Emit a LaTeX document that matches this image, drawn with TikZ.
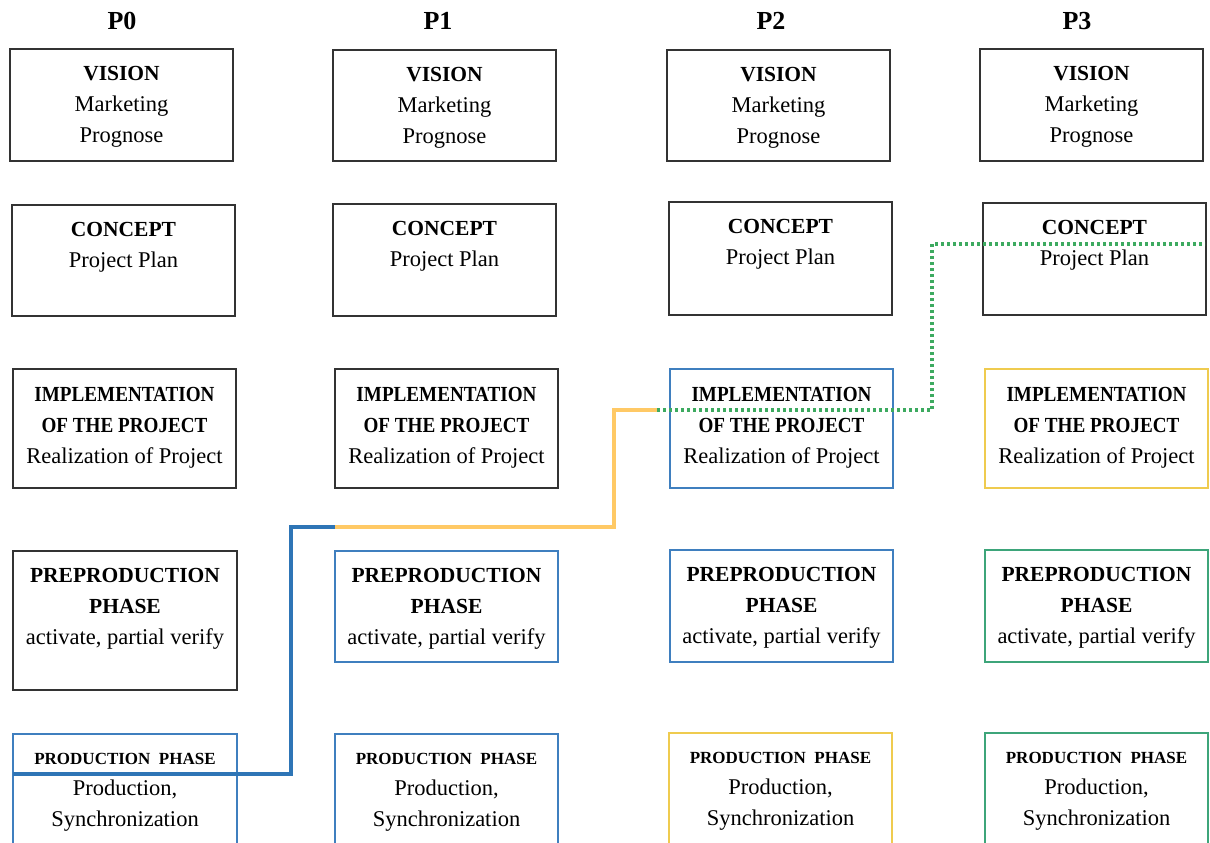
\documentclass[tikz,border=0pt]{standalone}
\usepackage{fontspec}
\usepackage{graphicx}
\setmainfont{Liberation Serif}
\definecolor{bk}{HTML}{333333}
\definecolor{bl}{HTML}{3F7FBF}
\definecolor{yl}{HTML}{EFCB4F}
\definecolor{gr}{HTML}{3DA57A}
\definecolor{lineblue}{HTML}{2E75B6}
\definecolor{lineyel}{HTML}{FFC965}
\definecolor{linegr}{HTML}{3DAA60}
\newcommand{\bt}[1]{{\fontsize{21.5}{31}\selectfont\bfseries #1}}
\newcommand{\bn}[1]{\scalebox{0.89}[1]{\bt{#1}}}
\tikzset{
  boxst/.style={rectangle,inner sep=0pt,line width=1.2pt},
  txt/.style={inner sep=0pt,align=center,font=\fontsize{22.5}{31}\selectfont,anchor=north},
  hdr/.style={font=\fontsize{26}{30}\selectfont\bfseries},
  conn/.style={line width=3.6pt,line join=miter},
}
\newcommand{\pbox}[8]{%
  \node[boxst,draw=#6,minimum width={(#4-#2)*1pt},minimum height={(#5-#3)*1pt}]
    (#1) at ({(#2+#4)/2},{(#3+#5)/2}) {};
  \node[txt] (#1t) at ([yshift=-#7pt]#1.north) {#8};
}
\newcommand{\tV}{\bt{VISION}\\Marketing\\Prognose}
\newcommand{\tC}{\bt{CONCEPT}\\Project Plan}
\newcommand{\tI}{\bn{IMPLEMENTATION}\\\bn{OF THE PROJECT}\\Realization of Project}
\newcommand{\tP}{\bt{PREPRODUCTION}\\\bt{PHASE}\\activate, partial verify}
\newcommand{\tR}{{\fontsize{17}{31}\selectfont\bfseries PRODUCTION\ \ PHASE}\\Production,\\Synchronization}
\begin{document}
\begin{tikzpicture}[x=1pt,y=-1pt]
\useasboundingbox (0,0) rectangle (1210,843);
\clip (0,0) rectangle (1210,843);
% headers
\node[hdr] (h0) at (122,21) {P0};
\node[hdr] (h1) at (438,21) {P1};
\node[hdr] (h2) at (771,21) {P2};
\node[hdr] (h3) at (1077,21) {P3};
% column 0
\pbox{v0}{10}{49}{233}{161}{bk}{18}{\tV}
\pbox{c0}{12}{205}{235}{316}{bk}{17.5}{\tC}
\pbox{i0}{13}{369}{236}{488}{bk}{19}{\tI}
\pbox{p0}{13}{551}{237}{690}{bk}{18}{\tP}
\pbox{r0}{13}{734}{237}{870}{bl}{20}{\tR}
% column 1
\pbox{v1}{333}{50}{556}{161}{bk}{18}{\tV}
\pbox{c1}{333}{204}{556}{316}{bk}{17.5}{\tC}
\pbox{i1}{335}{369}{558}{488}{bk}{19}{\tI}
\pbox{p1}{335}{551}{558}{662}{bl}{18}{\tP}
\pbox{r1}{335}{734}{558}{870}{bl}{20}{\tR}
% column 2
\pbox{v2}{667}{50}{890}{161}{bk}{18}{\tV}
\pbox{c2}{669}{202}{892}{315}{bk}{17.5}{\tC}
\pbox{i2}{670}{369}{893}{488}{bl}{19}{\tI}
\pbox{p2}{670}{550}{893}{662}{bl}{18}{\tP}
\pbox{r2}{669}{733}{892}{870}{yl}{20}{\tR}
% column 3
\pbox{v3}{980}{49}{1203}{161}{bk}{18}{\tV}
\pbox{c3}{983}{203}{1206}{315}{bk}{17.5}{\tC}
\pbox{i3}{985}{369}{1208}{488}{yl}{19}{\tI}
\pbox{p3}{985}{550}{1208}{662}{gr}{18}{\tP}
\pbox{r3}{985}{733}{1208}{870}{gr}{20}{\tR}
% connectors
\coordinate (a0) at (13,774);
\coordinate (a1) at (291,774);
\coordinate (a2) at (291,527);
\coordinate (a3) at (335,527);
\coordinate (b1) at (614,527);
\coordinate (b2) at (614,410);
\coordinate (b3) at (657,410);
\coordinate (g1) at (932,410);
\coordinate (g2) at (932,244);
\coordinate (g3) at (1205,244);
\draw[conn,lineblue] (a0) -- (a1) -- (a2) -- (a3);
\draw[conn,lineyel] (a3) -- (b1) -- (b2) -- (b3);
\draw[conn,linegr,line width=3.2pt,dash pattern=on 3pt off 3pt] (b3) -- (g1) -- (g2) -- (g3);
\end{tikzpicture}
\end{document}
